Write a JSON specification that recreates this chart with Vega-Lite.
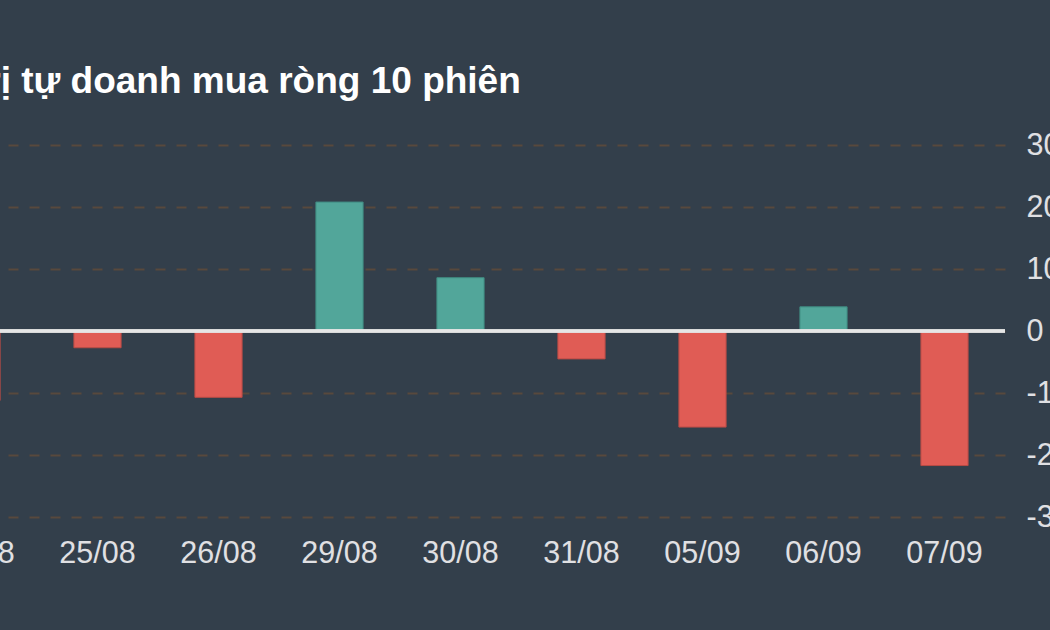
{
  "$schema": "https://vega.github.io/schema/vega-lite/v6.json",
  "autosize": {"type": "none"},
  "width": 1089,
  "height": 372,
  "padding": {"left": -84, "top": 145, "right": 45, "bottom": 113},
  "background": "#333f4b",
  "title": {
    "text": "Giá trị tự doanh mua ròng 10 phiên",
    "anchor": "start",
    "frame": "group",
    "dx": -12,
    "offset": 0,
    "baseline": "alphabetic",
    "font": "Liberation Sans",
    "fontSize": 37,
    "fontWeight": "bold",
    "color": "#ffffff"
  },
  "data": {
    "values": [
      {"date": "24/08", "value": -11.2},
      {"date": "25/08", "value": -2.7},
      {"date": "26/08", "value": -10.7},
      {"date": "29/08", "value": 20.8},
      {"date": "30/08", "value": 8.6},
      {"date": "31/08", "value": -4.5},
      {"date": "05/09", "value": -15.5},
      {"date": "06/09", "value": 3.9},
      {"date": "07/09", "value": -21.7}
    ]
  },
  "config": {
    "view": {"stroke": null},
    "axis": {
      "labelFont": "Liberation Sans",
      "labelFontSize": 30.5,
      "labelColor": "#e0e0e3",
      "domain": false,
      "ticks": false,
      "title": null
    }
  },
  "layer": [
    {
      "mark": {"type": "bar", "strokeWidth": 1},
      "encoding": {
        "x": {
          "field": "date",
          "type": "ordinal",
          "sort": null,
          "scale": {"paddingInner": 0.61, "paddingOuter": 0.305},
          "axis": {"labelAngle": 0, "labelPadding": 21, "grid": false}
        },
        "y": {
          "field": "value",
          "type": "quantitative",
          "scale": {"domain": [-30, 30], "nice": false},
          "axis": {
            "orient": "right",
            "values": [-30, -20, -10, 0, 10, 20, 30],
            "labelExpr": "datum.value + ''",
            "labelPadding": 21,
            "grid": true,
            "gridColor": "#58493d",
            "gridWidth": 2,
            "gridDash": [10, 11]
          }
        },
        "color": {
          "condition": {"test": "datum.value >= 0", "value": "#52a69a"},
          "value": "#e05c55"
        },
        "stroke": {
          "condition": {"test": "datum.value >= 0", "value": "#3f8a80"},
          "value": "#b84b45"
        }
      }
    },
    {
      "mark": {"type": "rule", "color": "#e6e6e6", "strokeWidth": 2.5},
      "encoding": {"y": {"datum": 0}}
    }
  ]
}
